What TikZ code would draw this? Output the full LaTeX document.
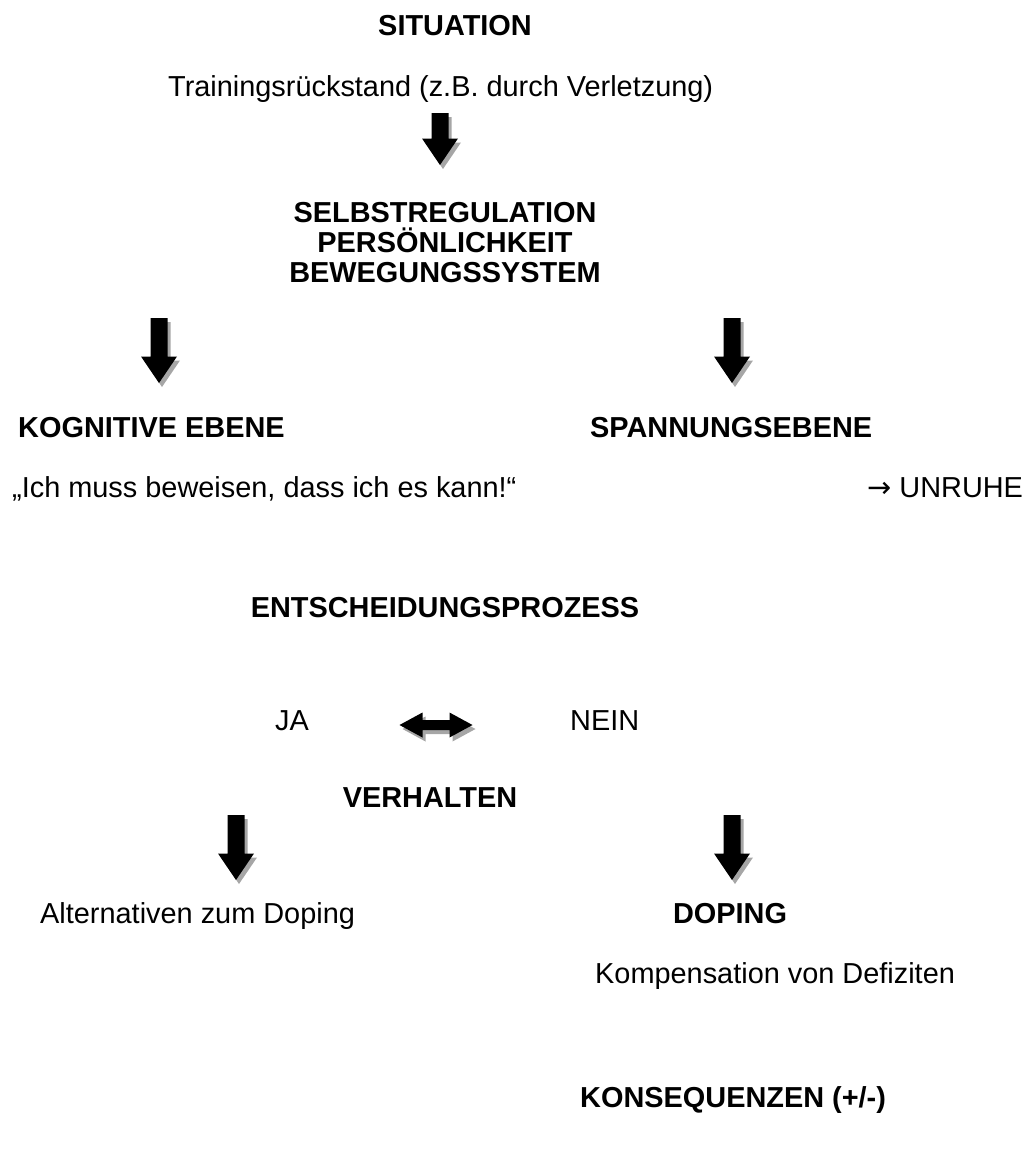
\documentclass[tikz,border=0pt]{standalone}
\usepackage{fontspec}
\setmainfont{Liberation Sans}
\newfontfamily\arrowfont{DejaVu Sans}
\usepackage{tikz}

\tikzset{
  txt/.style={inner sep=0pt,font=\fontsize{29}{30}\selectfont},
  head/.style={txt,font=\fontsize{29}{30}\selectfont\bfseries},
  shade/.style={fill=black!35},
  pics/downarrow/.style={code={
    \fill[shade,shift={(3bp,-4bp)}] (-8.5bp,#1bp) -- (8.5bp,#1bp) -- (8.5bp,26.5bp) -- (18bp,26.5bp) -- (0bp,0bp) -- (-18bp,26.5bp) -- (-8.5bp,26.5bp) -- cycle;
    \fill[black] (-8.5bp,#1bp) -- (8.5bp,#1bp) -- (8.5bp,26.5bp) -- (18bp,26.5bp) -- (0bp,0bp) -- (-18bp,26.5bp) -- (-8.5bp,26.5bp) -- cycle;
  }},
  pics/bothways/.style={code={
    \fill[shade,shift={(3bp,-4bp)}] (-36.5bp,0bp) -- (-13.5bp,12.5bp) -- (-13.5bp,5bp) -- (13.5bp,5bp) -- (13.5bp,12.5bp) -- (36.5bp,0bp) -- (13.5bp,-12.5bp) -- (13.5bp,-5bp) -- (-13.5bp,-5bp) -- (-13.5bp,-12.5bp) -- cycle;
    \fill[black] (-36.5bp,0bp) -- (-13.5bp,12.5bp) -- (-13.5bp,5bp) -- (13.5bp,5bp) -- (13.5bp,12.5bp) -- (36.5bp,0bp) -- (13.5bp,-12.5bp) -- (13.5bp,-5bp) -- (-13.5bp,-5bp) -- (-13.5bp,-12.5bp) -- cycle;
  }}
}

\begin{document}
\begin{tikzpicture}
\useasboundingbox (0bp,0bp) rectangle (1035bp,-1167bp);
\node (sit) at (455bp,-35bp)[head,anchor=base] {SITUATION};
\node (trn) at (168bp,-96bp)[txt,anchor=base west] {Trainingsrückstand (z.B. durch Verletzung)};
\pic (a1) at (440bp,-165bp) {downarrow=52};
\node (sr1) at (445bp,-222bp)[head,anchor=base] {SELBSTREGULATION};
\node (sr2) at (445bp,-252bp)[head,anchor=base] {PERSÖNLICHKEIT};
\node (sr3) at (445bp,-282bp)[head,anchor=base] {BEWEGUNGSSYSTEM};
\pic (a2) at (159bp,-383bp) {downarrow=65};
\pic (a3) at (732bp,-383bp) {downarrow=65};
\node (kog) at (18bp,-437bp)[head,anchor=base west] {KOGNITIVE EBENE};
\node (spa) at (590bp,-437bp)[head,anchor=base west] {SPANNUNGSEBENE};
\node (ich) at (12bp,-497bp)[txt,anchor=base west] {„Ich muss beweisen, dass ich es kann!“};
\node (unr) at (867bp,-497bp)[txt,anchor=base west] {{\arrowfont →} UNRUHE};
\node (ent) at (445bp,-617bp)[head,anchor=base] {ENTSCHEIDUNGSPROZESS};
\node (ja) at (275bp,-730bp)[txt,anchor=base west] {JA};
\pic (jn) at (436bp,-725bp) {bothways};
\node (nein) at (570bp,-730bp)[txt,anchor=base west] {NEIN};
\node (ver) at (430bp,-807bp)[head,anchor=base] {VERHALTEN};
\pic (a4) at (236bp,-880bp) {downarrow=65};
\pic (a5) at (732bp,-880bp) {downarrow=65};
\node (alt) at (40bp,-923bp)[txt,anchor=base west] {Alternativen zum Doping};
\node (dop) at (730bp,-923bp)[head,anchor=base] {DOPING};
\node (kom) at (595bp,-983bp)[txt,anchor=base west] {Kompensation von Defiziten};
\node (kon) at (580bp,-1107bp)[head,anchor=base west] {KONSEQUENZEN (+/-)};
\end{tikzpicture}
\end{document}
